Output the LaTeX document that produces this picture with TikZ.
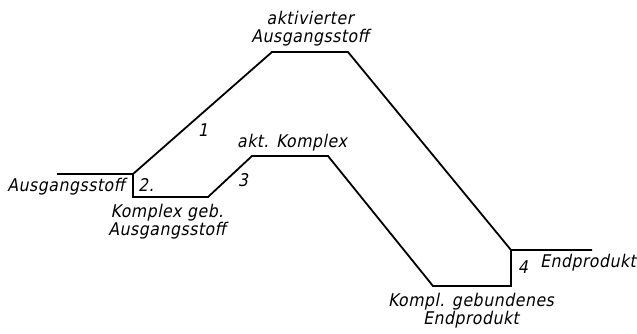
\documentclass[tikz,border=0pt]{standalone}
\usepackage{fontspec}
\setmainfont{DejaVu Sans}
\newfontfamily\lblfont[FakeSlant=0.2,FakeStretch=0.9,LetterSpace=3]{DejaVu Sans}
\begin{document}
\begin{tikzpicture}[x=1pt,y=-1pt,
  curve/.style={line width=1.8pt,line join=miter},
  lbl/.style={font=\lblfont\fontsize{17.5}{19}\selectfont,inner sep=0pt,align=center}]
\useasboundingbox (0,0) rectangle (637,333);
% levels of the energy profile
\coordinate (s0) at (57,174);
\coordinate (s1) at (133,174);
\coordinate (k1) at (133,197);
\coordinate (k2) at (208,197);
\coordinate (a1) at (252,156);
\coordinate (a2) at (328,156);
\coordinate (b1) at (433,286);
\coordinate (b2) at (511,286);
\coordinate (e1) at (511,250);
\coordinate (e2) at (592,250);
\coordinate (t1) at (272,52);
\coordinate (t2) at (348,52);
% uncatalysed path
\draw[curve] (s0) -- (s1) -- (t1) -- (t2) -- (e1) -- (e2);
% complex-bound path
\draw[curve] (s1) -- (k1) -- (k2) -- (a1) -- (a2) -- (b1) -- (b2) -- (e1);
% labels
\node[lbl] (lt) at (310,29) {aktivierter\\[-1pt]Ausgangsstoff};
\node[lbl] (ls) at (66,187) {Ausgangsstoff};
\node[lbl] (lk) at (167,222) {Komplex geb.\\[-1pt]Ausgangsstoff};
\node[lbl] (la) at (292,143) {akt. Komplex};
\node[lbl] (le) at (588,263) {Endprodukt};
\node[lbl] (lb) at (471,311) {Kompl. gebundenes\\[-1pt]Endprodukt};
\node[lbl] (n1) at (203,130) {1};
\node[lbl] (n2) at (146,185) {2.};
\node[lbl] (n3) at (243,180) {3};
\node[lbl] (n4) at (523,267) {4};
\end{tikzpicture}
\end{document}
